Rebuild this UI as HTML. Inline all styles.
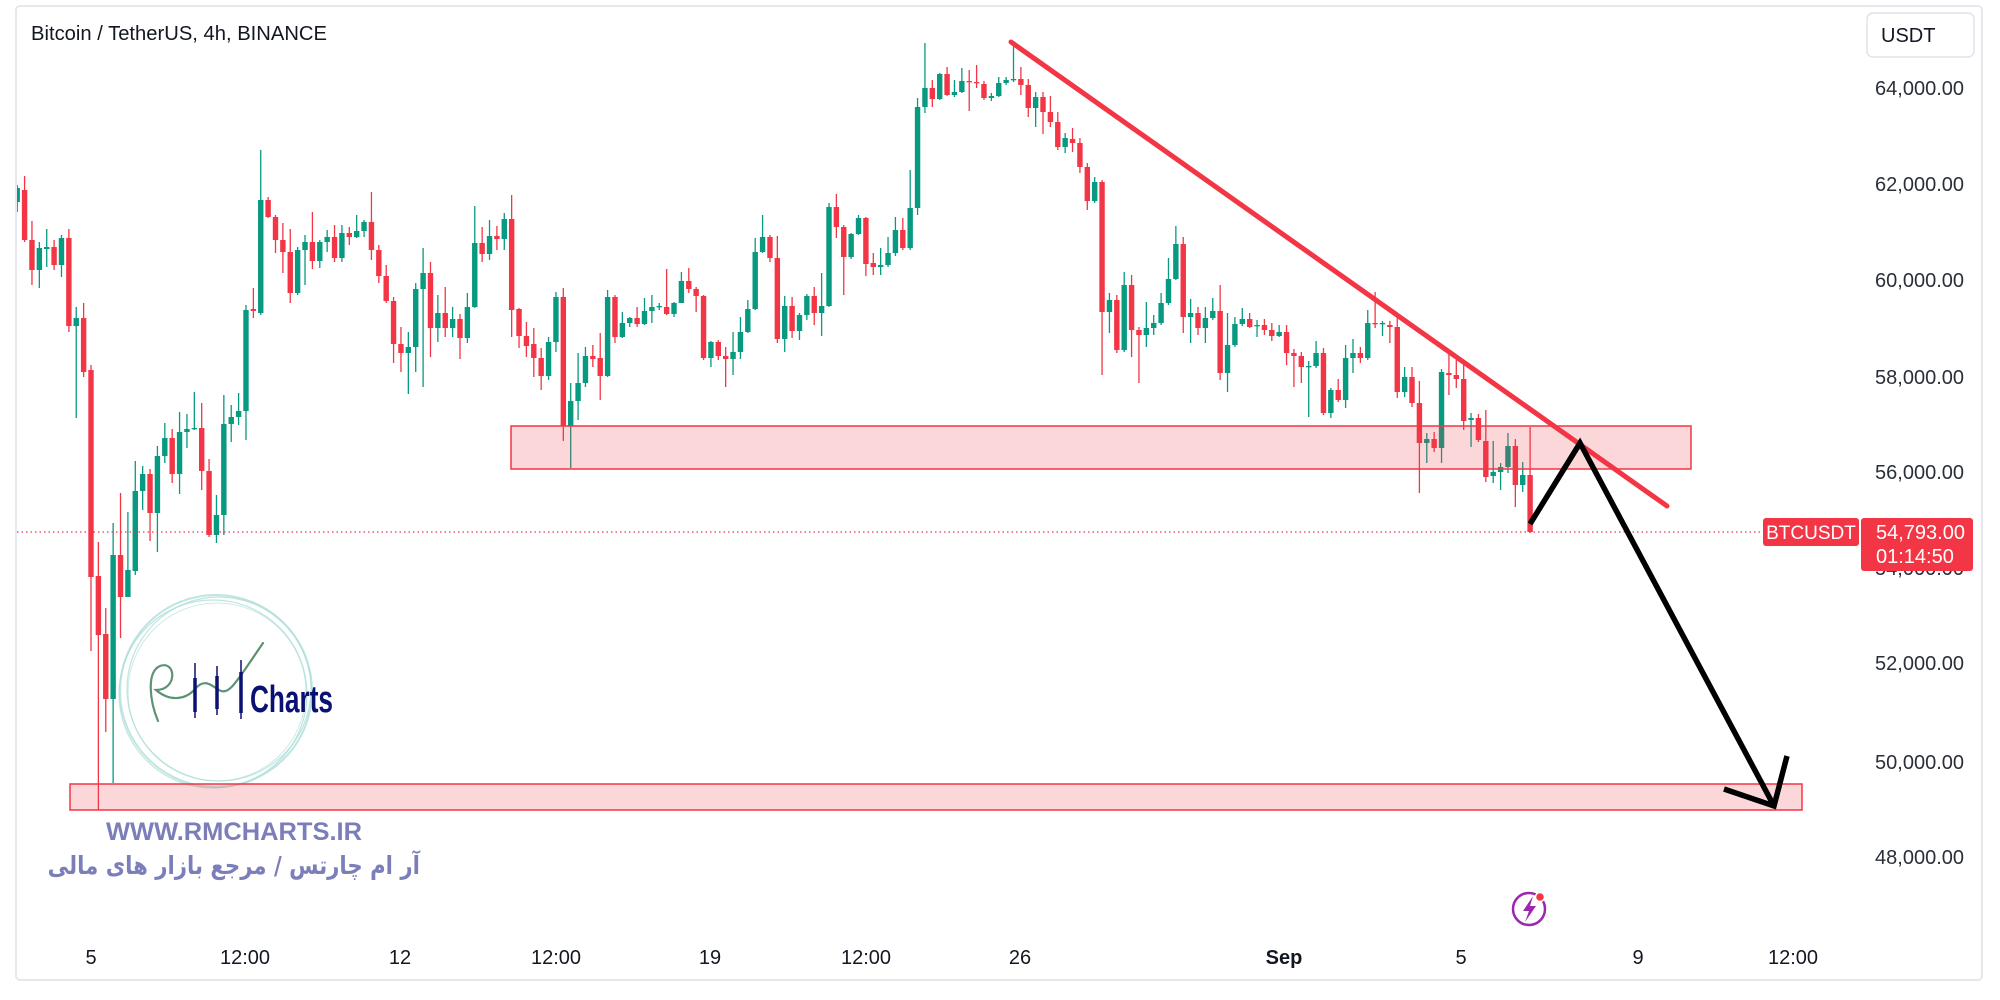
<!DOCTYPE html>
<html><head><meta charset="utf-8">
<style>
html,body{margin:0;padding:0;background:#fff;}
#wrap{position:relative;width:2000px;height:1000px;overflow:hidden;background:#fff;}
svg{position:absolute;left:0;top:0;}
.fa{position:absolute;right:1580px;top:851px;font-family:"DejaVu Sans",sans-serif;font-weight:bold;font-size:25px;color:#7c7eb9;direction:rtl;white-space:nowrap;transform:scaleX(0.85);transform-origin:right center;}
</style></head>
<body><div id="wrap">
<svg width="2000" height="1000" viewBox="0 0 2000 1000" xmlns="http://www.w3.org/2000/svg">
  <rect x="16" y="6" width="1966" height="974" rx="4" fill="#fff" stroke="#e6e8ee" stroke-width="2"/>
  <!-- watermark ring -->
  <g fill="none" stroke="#a9dcd7" stroke-opacity="0.75">
    <circle cx="216" cy="691" r="96" stroke-width="2"/>
    <circle cx="219" cy="689" r="92" stroke-width="1.2"/>
    <circle cx="213" cy="694" r="94" stroke-width="1.2"/>
    <circle cx="217" cy="692" r="89" stroke-width="0.8"/>
  </g>
  <defs><clipPath id="cp"><rect x="17" y="7" width="1964" height="972"/></clipPath></defs>
  <g id="candles" clip-path="url(#cp)"></g>
  <!-- zones -->
  <rect x="511" y="426" width="1180" height="43" fill="rgba(242,54,69,0.2)" stroke="#f23645" stroke-width="1.5"/>
  <rect x="70" y="784" width="1732" height="26" fill="rgba(242,54,69,0.2)" stroke="#f23645" stroke-width="1.5"/>
  <!-- current price line -->
  <line x1="17" y1="532" x2="1763" y2="532" stroke="#f23645" stroke-width="1.3" stroke-dasharray="1.5 3"/>
  <!-- trendline -->
  <line x1="1011" y1="42" x2="1667" y2="506" stroke="#f23645" stroke-width="5" stroke-linecap="round"/>
  <!-- black path -->
  <polyline points="1530,524 1580,443 1774,806" fill="none" stroke="#000" stroke-width="5.5" stroke-linejoin="miter"/>
  <polyline points="1787,756 1774,806 1724,789" fill="none" stroke="#000" stroke-width="5.5" stroke-linejoin="miter"/>
  <!-- logo -->
  <path d="M158 721 C150 702 146 672 160 666 C176 660 178 690 156 690 C170 702 186 700 196 688 C205 678 212 686 219 690 C228 696 236 682 246 668 L263 643" fill="none" stroke="#5d9276" stroke-width="2.2" stroke-linecap="round"/>
  <g stroke="#0a1172">
    <line x1="195" y1="663" x2="195" y2="718" stroke-width="1.5"/>
    <line x1="195" y1="678" x2="195" y2="712" stroke-width="3.5"/>
    <line x1="217" y1="666" x2="217" y2="715" stroke-width="1.5"/>
    <line x1="217" y1="676" x2="217" y2="709" stroke-width="3.5"/>
    <line x1="241" y1="660" x2="241" y2="719" stroke-width="1.5"/>
    <line x1="241" y1="672" x2="241" y2="713" stroke-width="3.5"/>
  </g>
  <text x="250" y="712" font-family="Liberation Sans, sans-serif" font-weight="bold" font-size="38" fill="#0a1172" textLength="83" lengthAdjust="spacingAndGlyphs">Charts</text>
  <text x="106" y="840" font-family="Liberation Sans, sans-serif" font-weight="bold" font-size="25" fill="#7c7eb9" textLength="256" lengthAdjust="spacingAndGlyphs">WWW.RMCHARTS.IR</text>
  <!-- title -->
  <text x="31" y="40" font-family="Liberation Sans, sans-serif" font-size="20" fill="#131722" textLength="296" lengthAdjust="spacingAndGlyphs">Bitcoin / TetherUS, 4h, BINANCE</text>
  <!-- USDT box -->
  <rect x="1867" y="13" width="107" height="44" rx="6" fill="#fff" stroke="#e0e3eb" stroke-width="1.5"/>
  <text x="1881" y="42" font-family="Liberation Sans, sans-serif" font-size="20" fill="#131722">USDT</text>
  <!-- price axis -->
  <g font-family="Liberation Sans, sans-serif" font-size="20" fill="#2a2e39" text-anchor="end">
    <text x="1964" y="95">64,000.00</text>
    <text x="1964" y="191">62,000.00</text>
    <text x="1964" y="287">60,000.00</text>
    <text x="1964" y="384">58,000.00</text>
    <text x="1964" y="479">56,000.00</text>
    <text x="1964" y="575">54,000.00</text>
    <text x="1964" y="670">52,000.00</text>
    <text x="1964" y="769">50,000.00</text>
    <text x="1964" y="864">48,000.00</text>
  </g>
  <!-- price labels -->
  <rect x="1763" y="518" width="96" height="28" rx="3" fill="#f23645"/>
  <text x="1811" y="539" font-family="Liberation Sans, sans-serif" font-size="19" fill="#fff" text-anchor="middle">BTCUSDT</text>
  <rect x="1861" y="518" width="112" height="53" rx="3" fill="#f23645"/>
  <text x="1876" y="539" font-family="Liberation Sans, sans-serif" font-size="20" fill="#fff">54,793.00</text>
  <text x="1876" y="563" font-family="Liberation Sans, sans-serif" font-size="20" fill="#fff">01:14:50</text>
  <!-- time axis -->
  <g font-family="Liberation Sans, sans-serif" font-size="20" fill="#131722" text-anchor="middle">
    <text x="91" y="964">5</text>
    <text x="245" y="964">12:00</text>
    <text x="400" y="964">12</text>
    <text x="556" y="964">12:00</text>
    <text x="710" y="964">19</text>
    <text x="866" y="964">12:00</text>
    <text x="1020" y="964">26</text>
    <text x="1284" y="964" font-weight="bold">Sep</text>
    <text x="1461" y="964">5</text>
    <text x="1638" y="964">9</text>
    <text x="1793" y="964">12:00</text>
  </g>
  <!-- lightning icon -->
  <circle cx="1529" cy="909" r="16" fill="none" stroke="#9c27b0" stroke-width="2.5"/>
  <path d="M1533 896 L1523 911 L1529 911 L1525 922 L1536 906 L1530 906 Z" fill="#9c27b0"/>
  <circle cx="1540" cy="897" r="4.5" fill="#f23645" stroke="#fff" stroke-width="1.5"/>
</svg>
<div class="fa">آر ام چارتس / مرجع بازار های مالی</div>
</div>
<script>
var d=[
[202,188,185,212,'g'],[190,240,176,242,'r'],[240,270,221,285,'r'],[270,248,242,288,'g'],[249,247,229,267,'g'],
[247,265,240,270,'r'],[265,238,235,277,'g'],[238,326,229,332,'r'],[326,318,307,418,'g'],[318,372,303,377,'r'],
[370,577,365,651,'r'],[576,635,542,810,'r'],[634,699,608,732,'r'],[699,555,523,783,'g'],[555,597,493,638,'r'],
[597,570,512,597,'g'],[571,491,461,575,'g'],[491,474,466,510,'g'],[474,513,469,541,'r'],[513,456,446,552,'g'],
[456,438,423,463,'g'],[438,474,429,483,'r'],[474,432,412,494,'g'],[432,429,414,448,'g'],[429,428,392,430,'g'],
[428,471,403,490,'r'],[471,535,459,537,'r'],[535,515,495,543,'g'],[515,424,395,535,'g'],[424,417,405,442,'g'],
[417,411,393,425,'g'],[411,310,305,440,'g'],[309,311,288,318,'r'],[313,200,150,315,'g'],[200,217,197,218,'r'],
[217,240,215,253,'r'],[240,252,223,273,'r'],[252,293,229,303,'r'],[293,250,247,295,'g'],[250,242,235,285,'g'],
[242,261,212,269,'r'],[261,242,240,268,'g'],[242,237,230,252,'g'],[237,258,225,262,'r'],[258,233,225,262,'g'],
[233,237,227,245,'r'],[237,231,215,238,'g'],[231,222,220,237,'g'],[222,250,192,260,'r'],[250,276,245,283,'r'],
[276,301,265,303,'r'],[301,344,297,363,'r'],[344,353,327,372,'r'],[353,347,332,394,'g'],[347,289,283,372,'g'],
[289,273,248,387,'g'],[273,328,262,357,'r'],[328,313,295,342,'g'],[313,328,287,337,'r'],[328,319,307,337,'g'],
[319,338,314,359,'r'],[338,307,293,343,'g'],[307,243,206,308,'g'],[243,254,227,262,'r'],[254,236,220,260,'g'],
[236,239,226,250,'r'],[239,219,213,250,'g'],[219,310,195,337,'r'],[309,336,308,348,'r'],[336,346,322,357,'r'],
[344,358,328,377,'r'],[358,376,348,390,'r'],[376,342,337,380,'g'],[342,297,292,352,'g'],[297,426,288,441,'r'],
[426,401,383,468,'g'],[401,383,353,420,'g'],[383,356,347,387,'g'],[356,359,345,367,'r'],[358,376,333,400,'r'],
[376,297,290,377,'g'],[297,337,295,343,'r'],[337,323,312,338,'g'],[323,318,317,327,'g'],[318,324,307,327,'r'],
[324,311,298,325,'g'],[311,307,295,323,'g'],[307,306,303,310,'g'],[307,314,269,315,'r'],[314,303,302,317,'g'],
[303,281,272,303,'g'],[281,289,268,293,'r'],[289,296,287,312,'r'],[296,358,295,360,'r'],[358,342,341,367,'g'],
[342,356,340,360,'r'],[356,359,347,387,'r'],[359,352,332,375,'g'],[352,332,317,359,'g'],[332,309,300,333,'g'],
[309,252,238,310,'g'],[252,237,215,253,'g'],[237,258,235,262,'r'],[258,339,236,343,'r'],[339,306,296,352,'g'],
[306,331,297,338,'r'],[331,315,313,340,'g'],[315,296,294,320,'g'],[296,313,287,325,'r'],[313,306,273,336,'g'],
[306,207,203,307,'g'],[207,227,194,238,'r'],[227,257,225,295,'r'],[257,234,233,259,'g'],[234,218,215,235,'g'],
[218,264,217,276,'r'],[263,267,253,275,'r'],[267,265,248,275,'g'],[265,253,237,267,'g'],[253,230,217,256,'g'],
[230,248,218,250,'r'],[248,208,170,250,'g'],[208,107,98,215,'g'],[107,88,43,113,'g'],[88,99,80,107,'r'],
[99,74,73,100,'g'],[74,95,67,96,'r'],[95,92,80,97,'g'],[92,81,68,93,'g'],[81,82,70,111,'r'],
[82,83,65,88,'r'],[84,98,81,100,'r'],[98,96,93,101,'g'],[96,83,77,97,'g'],[83,80,77,85,'g'],
[80,79,42,82,'g'],[79,85,67,95,'r'],[85,108,79,117,'r'],[108,97,92,127,'g'],[97,112,92,134,'r'],
[112,122,96,127,'r'],[122,147,112,150,'r'],[147,138,133,153,'g'],[139,143,128,152,'r'],[143,167,138,173,'r'],
[167,201,163,210,'r'],[201,182,177,203,'g'],[182,312,180,375,'r'],[312,300,293,333,'g'],[300,350,295,353,'r'],
[350,285,272,352,'g'],[285,330,275,357,'r'],[330,335,327,383,'r'],[335,328,302,347,'g'],[328,323,315,335,'g'],
[323,303,293,325,'g'],[303,279,258,305,'g'],[279,244,226,280,'g'],[244,317,237,333,'r'],[317,313,299,343,'g'],
[313,328,307,335,'r'],[328,318,307,343,'g'],[318,311,298,320,'g'],[311,373,285,380,'r'],[373,345,313,392,'g'],
[345,324,317,347,'g'],[324,319,308,326,'g'],[319,327,313,328,'r'],[326,325,320,337,'g'],[325,330,319,335,'r'],
[330,336,323,341,'r'],[336,332,325,337,'g'],[332,353,325,365,'r'],[353,356,349,387,'r'],[356,367,352,383,'r'],
[367,366,361,417,'g'],[366,353,341,368,'g'],[353,413,348,415,'r'],[413,390,388,418,'g'],[390,400,379,402,'r'],
[400,358,345,408,'g'],[358,353,339,373,'g'],[353,358,347,363,'r'],[358,323,310,360,'g'],[323,324,292,328,'r'],
[324,323,321,336,'g'],[325,327,321,343,'r'],[327,392,317,398,'r'],[392,377,367,397,'g'],[377,403,367,407,'r'],
[403,443,381,493,'r'],[443,439,433,463,'g'],[439,448,432,452,'r'],[448,372,369,463,'g'],[373,375,354,395,'r'],
[375,379,360,388,'r'],[379,421,365,430,'r'],[420,418,413,447,'g'],[418,440,414,442,'r'],[441,477,410,482,'r'],
[476,472,441,483,'g'],[472,467,463,490,'g'],[467,446,433,473,'g'],[446,485,439,507,'r'],[485,475,462,492,'g'],
[475,532,427,533,'r']
];
(function(){
var s='';
for(var i=0;i<d.length;i++){
  var k=i-10, x=91+7.38*k, c=d[i], col=c[4]=='g'?'#089981':'#f23645';
  var by=Math.min(c[0],c[1]), bh=Math.max(Math.abs(c[0]-c[1]),1.3);
  s+='<line x1="'+x.toFixed(2)+'" y1="'+c[2]+'" x2="'+x.toFixed(2)+'" y2="'+c[3]+'" stroke="'+col+'" stroke-width="1.3"/>';
  s+='<rect x="'+(x-2.7).toFixed(2)+'" y="'+by+'" width="5.4" height="'+bh+'" fill="'+col+'"/>';
}
document.getElementById('candles').innerHTML=s;
})();
</script>
</body></html>
